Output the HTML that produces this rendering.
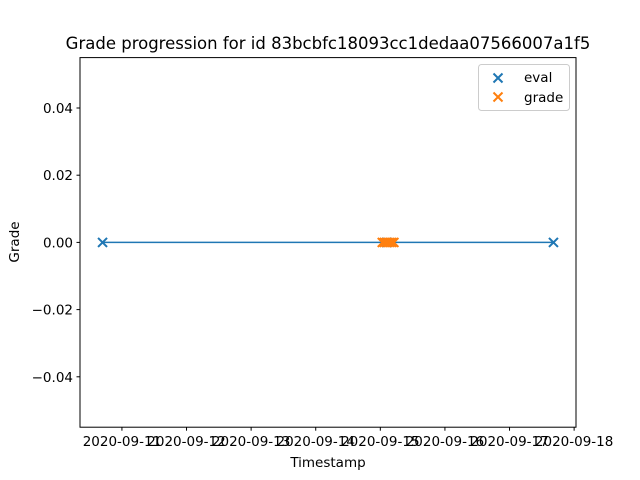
<!DOCTYPE html>
<html><head><meta charset="utf-8"><style>
body{margin:0;background:#fff}
svg{display:block;font-family:"DejaVu Sans","Liberation Sans",sans-serif}
</style></head><body>
<svg id="chart" width="640" height="480" viewBox="0 0 640 480">
<rect width="640" height="480" fill="#fff"/>
<text x="328" y="49" font-size="16.5" text-anchor="middle">Grade progression for id 83bcbfc18093cc1dedaa07566007a1f5</text>
<g id="plot"></g>
<rect x="80" y="57.6" width="496" height="369.6" fill="none" stroke="#000" stroke-width="1"/>
<text x="328" y="467" font-size="13.5" text-anchor="middle">Timestamp</text>
<text transform="translate(19,242) rotate(-90)" font-size="13.5" text-anchor="middle">Grade</text>
<g>
<rect x="478.5" y="64.5" width="91" height="46" rx="3" fill="#fff" fill-opacity="0.8" stroke="#ccc"/>
<path d="M493.5 73.5l9 9M502.5 73.5l-9 9" stroke="#1f77b4" stroke-width="2"/>
<text x="524" y="82" font-size="13.5">eval</text>
<path d="M493.5 92.5l9 9M502.5 92.5l-9 9" stroke="#ff7f0e" stroke-width="2"/>
<text x="524" y="102" font-size="13.5">grade</text>
</g>
</svg>
<script>
const evalDays=[10.7,15.1,17.68];
const evalGrades=[0,0,0];
const gradeDays=[15.03,15.06,15.09,15.12,15.15,15.18,15.21];
const gradeValues=[0,0,0,0,0,0,0];
const xTickDays=[11,12,13,14,15,16,17,18];
const xTickLabels=["2020-09-11","2020-09-12","2020-09-13","2020-09-14","2020-09-15","2020-09-16","2020-09-17","2020-09-18"];
const yTicks=[-0.04,-0.02,0,0.02,0.04];
const yTickLabels=["−0.04","−0.02","0.00","0.02","0.04"];

const L=80,R=576,T=57.6,B=427.2;
const allX=evalDays.concat(gradeDays);
const xmin0=Math.min(...allX),xmax0=Math.max(...allX),pad=(xmax0-xmin0)*0.05;
const xmin=xmin0-pad,xmax=xmax0+pad;
const X=d=>L+(d-xmin)/(xmax-xmin)*(R-L);
const Y=v=>B-(v+0.055)/0.11*(B-T);
const NS="http://www.w3.org/2000/svg";
const g=document.getElementById('plot');
function mk(tag,attrs){const e=document.createElementNS(NS,tag);for(const k in attrs)e.setAttribute(k,attrs[k]);g.appendChild(e);return e;}
xTickDays.forEach((d,i)=>{
  const x=X(d);
  const t=mk('line',{x1:x,x2:x,y1:B,y2:B+3.5,stroke:'#000'});
  
  
  const tx=mk('text',{x:x,y:B+19,'font-size':13.5,'text-anchor':'middle'});
  tx.textContent=xTickLabels[i];
  
  
});
yTicks.forEach((v,i)=>{
  const y=Y(v);
  const t=mk('line',{x1:L-3.5,x2:L,y1:y,y2:y,stroke:'#000'});
  
  
  const tx=mk('text',{x:L-7,y:y+5,'font-size':13.5,'text-anchor':'end'});
  tx.textContent=yTickLabels[i];
  
  
});
const pts=evalDays.map((d,i)=>X(d)+','+Y(evalGrades[i])).join(' ');
const line=mk('polyline',{points:pts,fill:'none',stroke:'#1f77b4','stroke-width':1.5});


function cross(x,y,c,name){
  const p=mk('path',{d:`M${x-4.5} ${y-4.5}L${x+4.5} ${y+4.5}M${x+4.5} ${y-4.5}L${x-4.5} ${y+4.5}`,stroke:c,'stroke-width':2});
  
  
}
evalDays.forEach((d,i)=>cross(X(d),Y(evalGrades[i]),'#1f77b4','eval-point'));
gradeDays.forEach((d,i)=>cross(X(d),Y(gradeValues[i]),'#ff7f0e','grade-point'));
</script>
</body></html>
